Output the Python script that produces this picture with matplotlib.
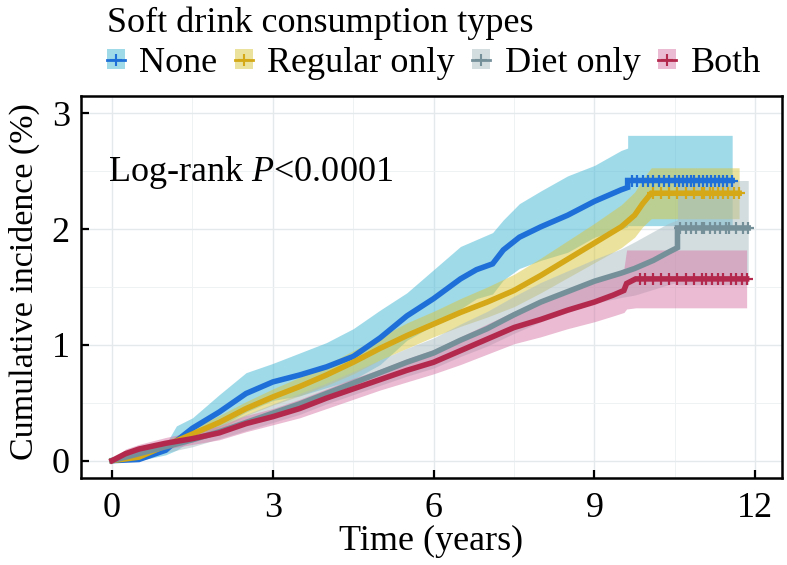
import numpy as np
import matplotlib
matplotlib.use("Agg")
import matplotlib.pyplot as plt
from matplotlib.patches import Patch
from matplotlib.lines import Line2D
from matplotlib.legend_handler import HandlerTuple
from matplotlib.ticker import MultipleLocator

plt.rcParams['font.family'] = ['Liberation Serif', 'DejaVu Serif']
plt.rcParams['mathtext.fontset'] = 'custom'
plt.rcParams['mathtext.rm'] = 'Liberation Serif'
plt.rcParams['mathtext.it'] = 'Liberation Serif:italic'

# Group names
groups = ['None', 'Regular only', 'Diet only', 'Both']

# None (blue)
t_none = [0, 0.5, 1.0, 1.2, 1.5, 2.0, 2.5, 3.0, 3.5, 4.0, 4.5, 5.0, 5.5, 6.0, 6.5, 6.8, 7.1, 7.3, 7.6, 8.0, 8.5, 9.0, 9.5, 9.62, 9.62, 11.57]
est_none = [0, 0.01, 0.09, 0.17, 0.28, 0.42, 0.58, 0.68, 0.74, 0.81, 0.90, 1.06, 1.25, 1.40, 1.57, 1.65, 1.70, 1.82, 1.93, 2.02, 2.12, 2.24, 2.34, 2.36, 2.42, 2.42]
hi_none = [0, 0.03, 0.14, 0.30, 0.37, 0.57, 0.76, 0.84, 0.93, 1.02, 1.14, 1.30, 1.45, 1.65, 1.85, 1.91, 1.97, 2.08, 2.22, 2.33, 2.46, 2.55, 2.68, 2.70, 2.81, 2.81]
lo_none = [0, 0.0, 0.05, 0.09, 0.18, 0.29, 0.42, 0.52, 0.56, 0.63, 0.70, 0.83, 1.04, 1.17, 1.31, 1.40, 1.44, 1.56, 1.66, 1.73, 1.80, 1.93, 2.00, 2.02, 2.03, 2.03]
cens_none = [9.70, 9.80, 9.90, 10.00, 10.10, 10.20, 10.30, 10.40, 10.50, 10.58, 10.65, 10.72, 10.80, 10.86,
             10.95, 11.02, 11.10, 11.18, 11.25, 11.32, 11.40, 11.48, 11.57]

# Regular only (yellow)
t_reg = [0, 0.5, 1.0, 1.5, 2.0, 2.5, 3.0, 3.5, 4.0, 4.5, 5.0, 5.5, 6.0, 6.5, 7.0, 7.5, 8.0, 8.5, 9.0, 9.5, 9.75, 9.9, 10.06, 11.70]
est_reg = [0, 0.03, 0.13, 0.23, 0.33, 0.45, 0.55, 0.64, 0.74, 0.85, 0.97, 1.08, 1.18, 1.28, 1.37, 1.47, 1.60, 1.74, 1.88, 2.02, 2.12, 2.22, 2.31, 2.31]
hi_reg = [0, 0.05, 0.17, 0.28, 0.39, 0.51, 0.62, 0.72, 0.83, 0.95, 1.07, 1.19, 1.29, 1.40, 1.50, 1.61, 1.75, 1.90, 2.05, 2.21, 2.32, 2.43, 2.53, 2.53]
lo_reg = [0, 0.01, 0.09, 0.18, 0.27, 0.39, 0.48, 0.56, 0.65, 0.75, 0.87, 0.97, 1.07, 1.16, 1.24, 1.33, 1.45, 1.58, 1.71, 1.84, 1.93, 2.02, 2.09, 2.09]
cens_reg = [10.1, 10.25, 10.4, 10.55, 10.7, 10.85, 11.0, 11.05, 11.15, 11.22, 11.3, 11.4, 11.5, 11.6, 11.7]

# Diet only (gray)
t_diet = [0, 0.5, 1.0, 1.5, 2.0, 2.5, 3.0, 3.5, 4.0, 4.5, 5.0, 5.5, 6.0, 6.5, 7.0, 7.5, 8.0, 8.5, 9.0, 9.5, 9.75, 10.1, 10.38, 10.55, 10.55, 11.87]
est_diet = [0, 0.06, 0.12, 0.18, 0.25, 0.33, 0.41, 0.49, 0.58, 0.67, 0.76, 0.85, 0.93, 1.04, 1.14, 1.26, 1.37, 1.46, 1.55, 1.62, 1.66, 1.73, 1.80, 1.84, 2.01, 2.01]
hi_diet = [0, 0.09, 0.17, 0.24, 0.31, 0.40, 0.49, 0.58, 0.67, 0.77, 0.87, 0.97, 1.06, 1.18, 1.29, 1.42, 1.54, 1.64, 1.74, 1.83, 1.89, 1.98, 2.05, 2.08, 2.42, 2.42]
lo_diet = [0, 0.03, 0.07, 0.12, 0.19, 0.26, 0.33, 0.40, 0.49, 0.57, 0.65, 0.73, 0.80, 0.90, 0.99, 1.10, 1.20, 1.28, 1.36, 1.41, 1.43, 1.48, 1.52, 1.54, 1.52, 1.52]
cens_diet = [10.6, 10.7, 10.8, 10.9, 11.0, 11.05, 11.15, 11.25, 11.35, 11.45, 11.52, 11.65, 11.78, 11.87]

# Both (red)
t_both = [0, 0.25, 0.5, 1.0, 1.5, 2.0, 2.5, 3.0, 3.5, 4.0, 4.5, 5.0, 5.5, 6.0, 6.5, 7.0, 7.5, 8.0, 8.5, 9.0, 9.35, 9.55, 9.6, 9.77, 11.84]
est_both = [0, 0.06, 0.10, 0.15, 0.19, 0.24, 0.32, 0.38, 0.45, 0.54, 0.62, 0.70, 0.78, 0.85, 0.95, 1.05, 1.15, 1.22, 1.30, 1.37, 1.43, 1.47, 1.53, 1.57, 1.57]
hi_both = [0, 0.10, 0.14, 0.20, 0.25, 0.30, 0.39, 0.45, 0.53, 0.62, 0.71, 0.79, 0.88, 0.96, 1.07, 1.18, 1.29, 1.37, 1.46, 1.54, 1.61, 1.66, 1.82, 1.82, 1.82]
lo_both = [0, 0.03, 0.06, 0.10, 0.14, 0.18, 0.25, 0.31, 0.37, 0.45, 0.53, 0.61, 0.68, 0.75, 0.83, 0.92, 1.01, 1.07, 1.14, 1.20, 1.25, 1.28, 1.31, 1.32, 1.32]
cens_both = [9.85, 9.95, 10.1, 10.25, 10.4, 10.55, 10.7, 10.85, 11.0, 11.08, 11.2, 11.3, 11.4, 11.55, 11.65, 11.75, 11.84]

line_colors = ['#1f6fd8', '#d4a816', '#76909a', '#b3294e']
fill_colors = ['#41b6d4', '#d9c63c', '#a8bcc2', '#d678a6']

series = [
    (t_none, est_none, lo_none, hi_none, cens_none),
    (t_reg, est_reg, lo_reg, hi_reg, cens_reg),
    (t_diet, est_diet, lo_diet, hi_diet, cens_diet),
    (t_both, est_both, lo_both, hi_both, cens_both),
]

fig = plt.figure(figsize=(7.87, 5.65), dpi=100)
ax = fig.add_axes([81 / 787, 1 - 478 / 565, 701 / 787, 382 / 565])

# ribbons first, lines on top
for (t, est, lo, hi, cens), fc in zip(series, fill_colors):
    ax.fill_between(t, lo, hi, color=fc, alpha=0.5, lw=0, zorder=1)

for (t, est, lo, hi, cens), lc in zip(series, line_colors):
    ax.plot(t, est, color=lc, lw=4, zorder=3, solid_joinstyle='miter')
    cy = np.interp(cens, t, est)
    ax.plot(cens, cy, ls='none', marker='+', ms=9, mew=1.6, color=lc, zorder=4)

ax.set_xlim(-0.58, 12.5)
ax.set_ylim(-0.15, 3.15)
ax.xaxis.set_major_locator(MultipleLocator(3))
ax.xaxis.set_minor_locator(MultipleLocator(1.5))
ax.yaxis.set_major_locator(MultipleLocator(1))
ax.yaxis.set_minor_locator(MultipleLocator(0.5))
ax.grid(True, which='major', color='#e4eaec', lw=1.0, zorder=0)
ax.grid(True, which='minor', color='#eef2f3', lw=0.7, zorder=0)
ax.set_axisbelow(True)

fs = 26
ax.tick_params(axis='both', which='major', direction='in', length=6, width=1.6,
               labelsize=fs, color='black')
ax.tick_params(axis='x', which='major', pad=10)
ax.tick_params(axis='y', which='major', pad=8)
ax.tick_params(axis='both', which='minor', length=0)
for sp in ax.spines.values():
    sp.set_linewidth(1.8)
    sp.set_color('black')

ax.set_xlabel('Time (years)', fontsize=fs, labelpad=0)
ax.set_ylabel('Cumulative incidence (%)', fontsize=24.5)
ax.yaxis.set_label_coords(-0.058, 0.515)

ax.text(-0.08, 2.49, 'Log-rank $\\mathit{P}$<0.0001', fontsize=fs, va='center', ha='left')

handles = []
for lc, fc in zip(line_colors, fill_colors):
    handles.append((Patch(facecolor=fc, alpha=0.5, edgecolor='none'),
                    Line2D([], [], color=lc, lw=2, marker='+', ms=8, mew=1.5)))
leg = fig.legend(handles, groups, title='Soft drink consumption types', ncol=4,
                 loc='upper left', bbox_to_anchor=(107 / 787, 1 - 6 / 565), frameon=False,
                 alignment='left', fontsize=fs, title_fontsize=fs,
                 handler_map={tuple: HandlerTuple(ndivide=1)},
                 handlelength=0.5, handleheight=0.5, handletextpad=0.4,
                 columnspacing=0.48, borderpad=0.0, borderaxespad=0, labelspacing=0.2)

fig.savefig('out.png', dpi=100)
